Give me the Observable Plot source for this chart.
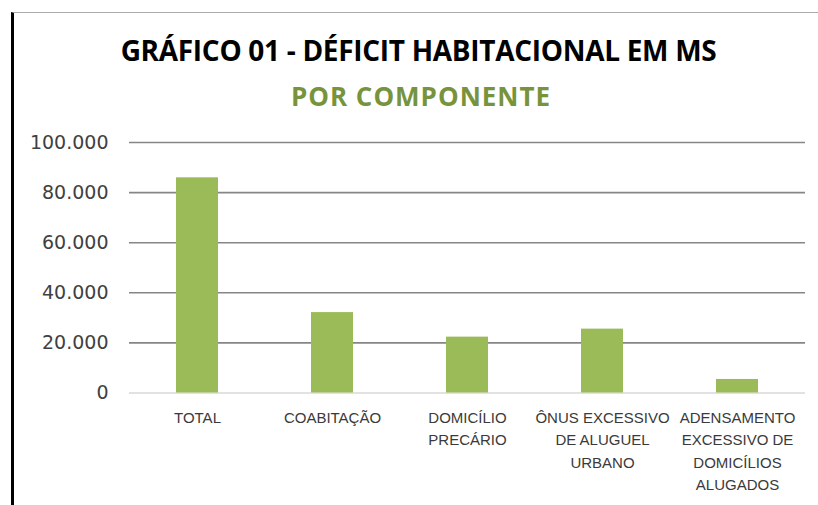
<!DOCTYPE html>
<html>
<head>
<meta charset="utf-8">
<script src="https://cdn.jsdelivr.net/npm/d3@7"></script>
<script src="https://cdn.jsdelivr.net/npm/@observablehq/plot@0.6"></script>
<style>
  html, body { margin: 0; padding: 0; background: #fff; }
  #wrap { position: relative; width: 818px; height: 505px; overflow: hidden; background: #fff; }
  #frame { position: absolute; left: 11px; top: 12px; right: 0; bottom: -5px;
           border-left: 3px solid #000; border-top: 1px solid #ababab; pointer-events: none; }
  .ttl { position: absolute; right: 0; text-align: center; white-space: nowrap;
         font-family: "Open Sans", sans-serif; font-weight: 700; line-height: 1.362; }
  #title { left: 19px; top: 31px; font-size: 28px; color: #000; letter-spacing: -0.3px; }
  #subtitle { left: 24px; top: 79px; font-size: 26px; color: #77933c; letter-spacing: 1px; }
  #chart { position: absolute; left: 0; top: 120px; }
</style>
</head>
<body>
<div id="wrap">
  <div id="title" class="ttl">GRÁFICO 01 - DÉFICIT HABITACIONAL EM MS</div>
  <div id="subtitle" class="ttl">POR COMPONENTE</div>
  <div id="chart"></div>
  <div id="frame"></div>
</div>
<script>
const categories = ["TOTAL", "COABITAÇÃO", "DOMICÍLIO PRECÁRIO", "ÔNUS EXCESSIVO DE ALUGUEL URBANO", "ADENSAMENTO EXCESSIVO DE DOMICÍLIOS ALUGADOS"];
const tickLabels = ["TOTAL", "COABITAÇÃO", "DOMICÍLIO\nPRECÁRIO", "ÔNUS EXCESSIVO\nDE ALUGUEL\nURBANO", "ADENSAMENTO\nEXCESSIVO DE\nDOMICÍLIOS\nALUGADOS"];
const values = [85900, 32100, 22300, 25500, 5400];
const yTicks = [0, 20000, 40000, 60000, 80000, 100000];

const data = categories.map((c, i) => ({category: c, value: values[i]}));
const labelOf = new Map(categories.map((c, i) => [c, tickLabels[i]]));
const fmt = d3.formatLocale({decimal: ",", thousands: ".", grouping: [3], currency: ["R$", ""]}).format(",d");

const chart = Plot.plot({
  width: 818,
  height: 385,
  marginLeft: 129,
  marginRight: 13,
  marginTop: 22,
  marginBottom: 112.5,
  style: {background: "transparent", overflow: "visible"},
  x: {domain: categories, paddingInner: 0.69, paddingOuter: 0.345, label: null},
  y: {domain: [0, 100000], label: null},
  marks: [
    Plot.ruleY(yTicks.filter(d => d > 0), {stroke: "#868686", strokeWidth: 1.6}),
    Plot.ruleY([0], {stroke: "#d9d9d9", strokeWidth: 1.6}),
    Plot.barY(data, {x: "category", y: "value", fill: "#9bbb59"}),
    Plot.axisY({ticks: yTicks, tickFormat: fmt, tickSize: 0, tickPadding: 21,
      fontSize: 19, fill: "#404040", fontFamily: "DejaVu Sans, sans-serif", label: null}),
    Plot.axisX({tickFormat: d => labelOf.get(d), tickSize: 0, tickPadding: 14,
      fontSize: 15, lineHeight: 1.5, fill: "#3a3a3a", fontFamily: "Liberation Sans, sans-serif", label: null,
      style: {letterSpacing: "0.4px"}})
  ]
});
document.getElementById("chart").appendChild(chart);
</script>
</body>
</html>
